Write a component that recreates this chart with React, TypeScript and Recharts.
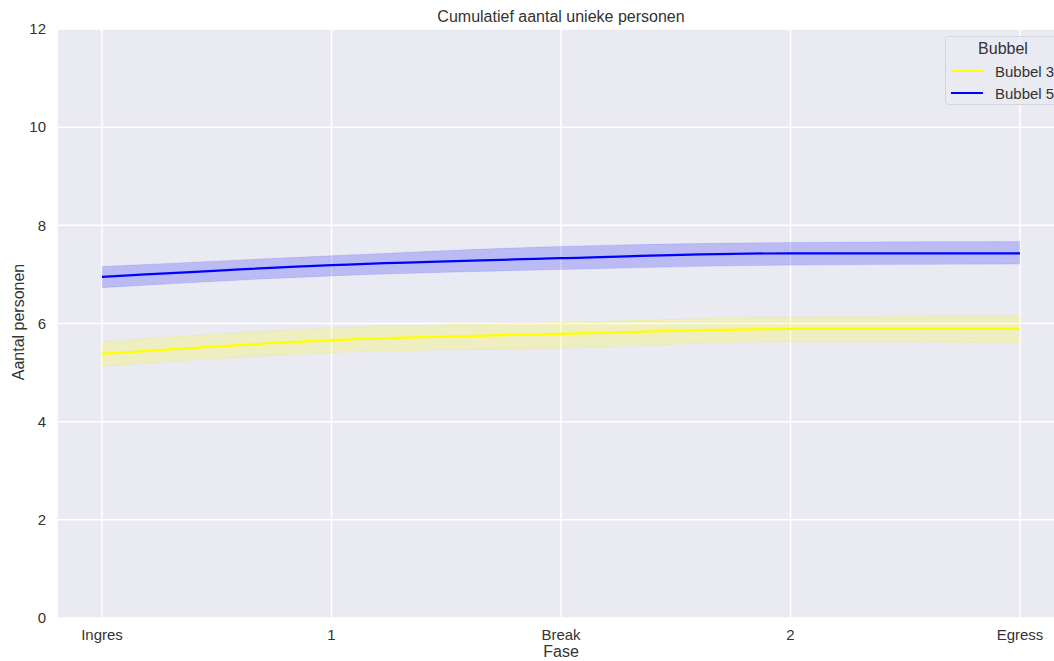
import { Area, ComposedChart, Line, XAxis, YAxis, CartesianGrid } from "recharts"

const phases = ["Ingres", "1", "Break", "2", "Egress"]
const yTicks = [0, 2, 4, 6, 8, 10, 12]

const bubbel3Mean = [5.38, 5.66, 5.79, 5.89, 5.89]
const bubbel3Low = [5.13, 5.41, 5.5, 5.63, 5.61]
const bubbel3High = [5.63, 5.91, 6.02, 6.13, 6.15]

const bubbel5Mean = [6.95, 7.19, 7.33, 7.43, 7.43]
const bubbel5Low = [6.73, 6.97, 7.1, 7.19, 7.21]
const bubbel5High = [7.16, 7.38, 7.57, 7.65, 7.67]

const data = phases.map((fase, i) => ({
  fase,
  b3: bubbel3Mean[i],
  b3Band: [bubbel3Low[i], bubbel3High[i]],
  b5: bubbel5Mean[i],
  b5Band: [bubbel5Low[i], bubbel5High[i]],
}))

const FONT = "'Liberation Sans', Arial, sans-serif"
const TEXT = "#333333"

function BubbelLegend() {
  const rows = [
    { name: "Bubbel 3", color: "#ffff00" },
    { name: "Bubbel 5", color: "#0000ff" },
  ]
  return (
    <div
      style={{
        position: "absolute",
        left: 945,
        top: 36,
        width: 116,
        height: 69,
        background: "rgba(234,234,242,0.8)",
        border: "1px solid #d4d4dc",
        borderRadius: 4,
        boxSizing: "border-box",
        color: TEXT,
      }}
    >
      <div style={{ textAlign: "center", fontSize: 16, lineHeight: "18px", marginTop: 3, height: 20 }}>Bubbel</div>
      {rows.map((r) => (
        <div key={r.name} style={{ display: "flex", alignItems: "center", height: 22, fontSize: 15, whiteSpace: "nowrap" }}>
          <span style={{ display: "inline-block", width: 32, height: 2, background: r.color, marginLeft: 5, marginRight: 12 }} />
          <span>{r.name}</span>
        </div>
      ))}
    </div>
  )
}

export default function App() {
  return (
    <div style={{ position: "absolute", left: 0, top: 0, width: 1054, height: 661, overflow: "hidden", fontFamily: FONT }}>
      <div style={{ position: "absolute", left: 0, width: 1122, top: 8, textAlign: "center", fontSize: 16, lineHeight: "18px", color: TEXT }}>
        Cumulatief aantal unieke personen
      </div>
      <div
        style={{
          position: "absolute",
          left: 19,
          top: 322,
          transform: "translate(-50%, -50%) rotate(-90deg)",
          fontSize: 16,
          lineHeight: "18px",
          color: TEXT,
          whiteSpace: "nowrap",
        }}
      >
        Aantal personen
      </div>
      <div style={{ position: "absolute", left: 0, width: 1122, top: 644, textAlign: "center", fontSize: 16, lineHeight: "16px", color: TEXT }}>
        Fase
      </div>
      <ComposedChart width={1070} height={661} data={data} margin={{ top: 29, right: 5, left: 8, bottom: 13 }}>
        <CartesianGrid fill="#eaeaf2" stroke="#ffffff" strokeWidth={1.5} />
        <XAxis
          dataKey="fase"
          scale="point"
          padding={{ left: 45, right: 45 }}
          height={30}
          tickLine={false}
          axisLine={false}
          tickMargin={5}
          tick={{ fontSize: 15, fill: TEXT, fontFamily: FONT }}
        />
        <YAxis
          domain={[0, 12]}
          ticks={yTicks}
          width={49}
          tickLine={false}
          axisLine={false}
          tickMargin={5}
          tick={{ fontSize: 15, fill: TEXT, fontFamily: FONT }}
        />
        <Area type="monotone" dataKey="b3Band" fill="#ffff00" fillOpacity={0.2} stroke="#e6e600" strokeOpacity={0.15} isAnimationActive={false} />
        <Line type="monotone" dataKey="b3" stroke="#ffff00" strokeWidth={2.2} dot={false} isAnimationActive={false} />
        <Area type="monotone" dataKey="b5Band" fill="#0000ff" fillOpacity={0.2} stroke="#0000ff" strokeOpacity={0.1} isAnimationActive={false} />
        <Line type="monotone" dataKey="b5" stroke="#0000ff" strokeWidth={2.2} dot={false} isAnimationActive={false} />
      </ComposedChart>
      <BubbelLegend />
    </div>
  )
}
